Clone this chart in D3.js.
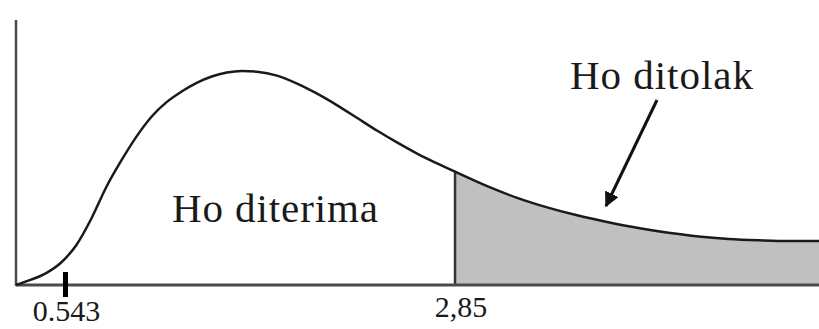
<!DOCTYPE html>
<html>
<head>
  <meta charset="utf-8" />
  <title>Uji F</title>
  <script src="https://cdnjs.cloudflare.com/ajax/libs/d3/7.8.5/d3.min.js"></script>
  <style>
    body { margin: 0; background: #fff; }
    text { font-family: "Liberation Serif", "Times New Roman", serif; fill: #1a1a1a; }
  </style>
</head>
<body>
  <svg id="chart" width="819" height="329"></svg>
  <script>
    // curve of the F distribution (schematic), x in arbitrary units, y = density
    let curveX = [0, 0.15, 0.3, 0.45, 0.6, 0.75, 0.9, 1.05, 1.2, 1.35, 1.5, 1.65, 1.8, 1.95, 2.1, 2.25, 2.4,
                  2.6, 2.8, 3.0, 3.2, 3.4, 3.6, 3.8, 4.0, 4.2, 4.4, 4.7, 5.0, 5.3, 5.6, 5.9, 6.2, 6.5, 6.8,
                  7.1, 7.4, 7.7, 8.0]
    let curveY = [0, 0.02, 0.045, 0.085, 0.15, 0.25, 0.37, 0.47, 0.56, 0.635, 0.69, 0.73, 0.763, 0.787, 0.802,
                  0.808, 0.805, 0.79, 0.76, 0.722, 0.678, 0.63, 0.582, 0.537, 0.495, 0.458, 0.423, 0.372, 0.328,
                  0.292, 0.262, 0.237, 0.215, 0.197, 0.183, 0.174, 0.169, 0.166, 0.166]

    let tickLabels = ['0.543', '2,85']
    let tickPos = [0.493, 4.374]
    let regionLabels = ['Ho diterima', 'Ho ditolak']

    let data = curveX.map(function(x, i) { return { x: x, y: curveY[i] } })
    let cut = tickPos[1]

    let svg = d3.select('#chart')
    let xScale = d3.scaleLinear().domain([0, 8]).range([16, 819])
    let yScale = d3.scaleLinear().domain([0, 1]).range([285, 20])

    let line = d3.line()
      .x(function(d) { return xScale(d.x) })
      .y(function(d) { return yScale(d.y) })
      .curve(d3.curveMonotoneX)
    let area = d3.area()
      .x(function(d) { return xScale(d.x) })
      .y0(yScale(0))
      .y1(function(d) { return yScale(d.y) })
      .curve(d3.curveMonotoneX)

    let defs = svg.append('defs')
    defs.append('clipPath').attr('id', 'tail')
      .append('rect')
      .attr('x', xScale(cut)).attr('y', 0)
      .attr('width', 819 - xScale(cut)).attr('height', yScale(0))
    defs.append('clipPath').attr('id', 'under')
      .append('path').attr('d', area(data))
    defs.append('marker').attr('id', 'head')
      .attr('viewBox', '0 0 10 10').attr('refX', 9).attr('refY', 5)
      .attr('markerWidth', 5).attr('markerHeight', 5).attr('orient', 'auto')
      .append('path').attr('d', 'M0,0 L10,5 L0,10 Z').attr('fill', '#111')

    // rejection region
    svg.append('path')
      .attr('d', area(data))
      .attr('clip-path', 'url(#tail)')
      .attr('fill', '#c0c0c0')

    // critical value line
    svg.append('line')
      .attr('x1', xScale(cut)).attr('x2', xScale(cut))
      .attr('y1', yScale(1)).attr('y2', yScale(0))
      .attr('clip-path', 'url(#under)')
      .attr('stroke', '#333').attr('stroke-width', 2.5)

    // axes
    svg.append('line')
      .attr('x1', xScale(0)).attr('x2', xScale(8))
      .attr('y1', yScale(0)).attr('y2', yScale(0))
      .attr('stroke', '#4a4a4a').attr('stroke-width', 3)
    svg.append('line')
      .attr('x1', xScale(0)).attr('x2', xScale(0))
      .attr('y1', yScale(0) + 1).attr('y2', yScale(1))
      .attr('stroke', '#4a4a4a').attr('stroke-width', 2.5)

    // density curve
    svg.append('path')
      .attr('d', line(data))
      .attr('fill', 'none')
      .attr('stroke', '#1a1a1a')
      .attr('stroke-width', 2.5)

    // tick for 0.543
    svg.append('rect')
      .attr('x', xScale(tickPos[0]) - 2.5).attr('y', yScale(0) - 13)
      .attr('width', 5).attr('height', 25)
      .attr('fill', '#000')

    svg.append('text')
      .attr('x', xScale(tickPos[0]) + 1).attr('y', 321)
      .attr('text-anchor', 'middle')
      .attr('font-size', 30)
      .text(tickLabels[0])
    svg.append('text')
      .attr('x', xScale(tickPos[1]) + 6).attr('y', 317)
      .attr('text-anchor', 'middle')
      .attr('font-size', 30)
      .text(tickLabels[1])

    // region labels
    svg.append('text')
      .attr('x', 172).attr('y', 222)
      .attr('font-size', 41)
      .attr('textLength', 206)
      .text(regionLabels[0])
    svg.append('text')
      .attr('x', 570).attr('y', 89)
      .attr('font-size', 41)
      .attr('textLength', 183)
      .attr('fill', '#2a2a2a')
      .text(regionLabels[1])

    // arrow to the tail
    svg.append('line')
      .attr('x1', 657).attr('y1', 100)
      .attr('x2', 606).attr('y2', 206)
      .attr('stroke', '#111').attr('stroke-width', 3)
      .attr('marker-end', 'url(#head)')
  </script>
</body>
</html>
